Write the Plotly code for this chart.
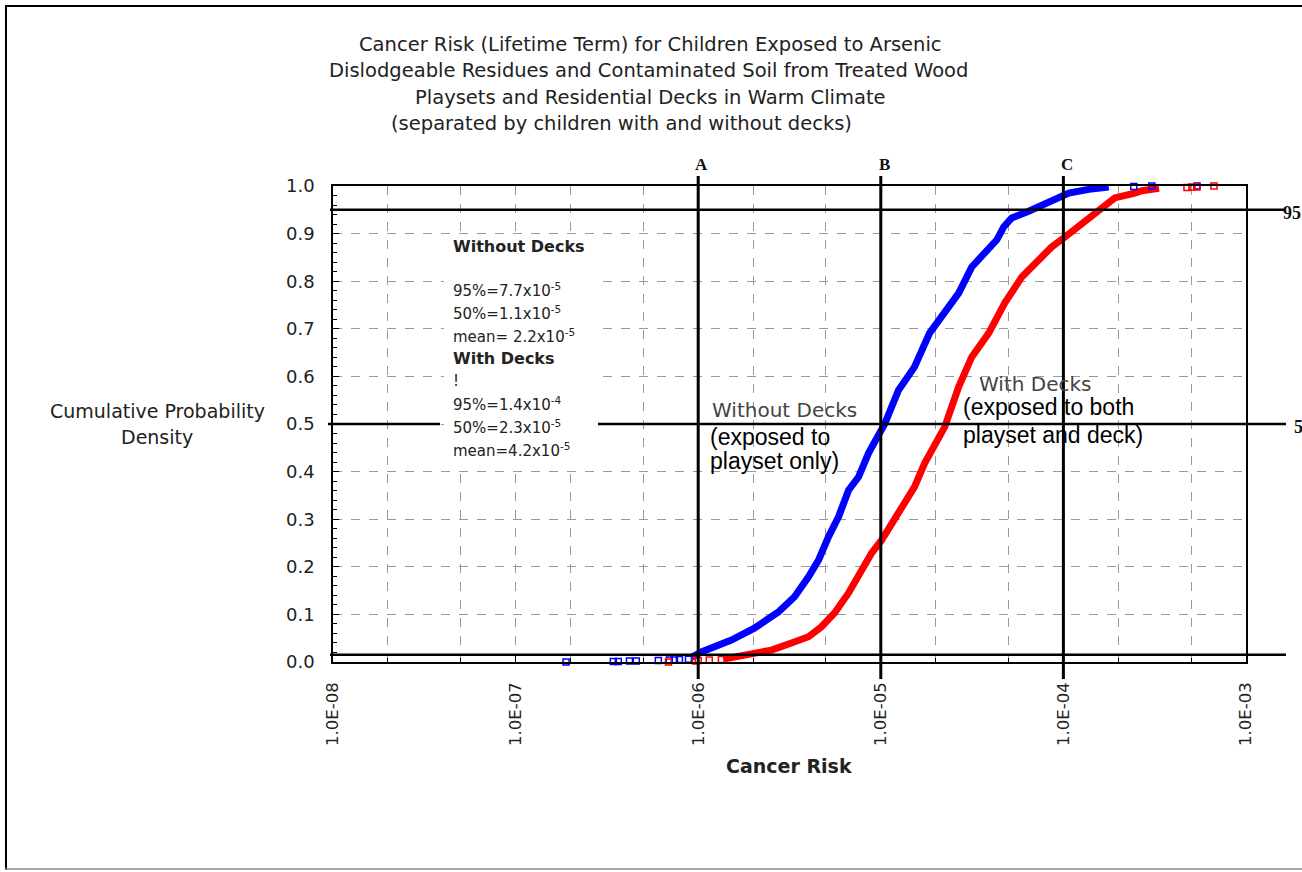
import math
import plotly.graph_objects as go

# ---- data -------------------------------------------------------------
# Without decks (exposed to playset only): cumulative curve
blue_risk = [9.2e-7, 1.04e-6, 1.52e-6, 2.03e-6, 2.75e-6, 3.37e-6, 4.02e-6, 4.56e-6,
             5.17e-6, 5.87e-6, 6.66e-6, 7.56e-6, 8.57e-6, 9.72e-6, 1.05e-5, 1.25e-5,
             1.53e-5, 1.85e-5, 2.24e-5, 2.67e-5, 3.15e-5, 3.71e-5, 4.32e-5, 4.71e-5,
             5.21e-5, 6.46e-5, 8.32e-5, 1.07e-4, 1.38e-4, 1.77e-4]
blue_prob = [0.010, 0.021, 0.046, 0.071, 0.105, 0.137, 0.179, 0.214,
             0.263, 0.305, 0.361, 0.389, 0.439, 0.481, 0.500, 0.571,
             0.620, 0.691, 0.733, 0.775, 0.830, 0.861, 0.887, 0.914,
             0.933, 0.947, 0.966, 0.985, 0.993, 0.998]
# sparse tail samples
blue_tail_risk = [1.89e-7, 3.43e-7, 3.65e-7, 4.20e-7, 4.58e-7, 6.05e-7, 6.95e-7,
                  7.41e-7, 7.89e-7, 8.84e-7, 2.43e-4, 3.05e-4, 5.39e-4]
blue_tail_prob = [0.0, 0.001, 0.001, 0.002, 0.002, 0.003, 0.004,
                  0.004, 0.005, 0.006, 0.999, 1.0, 1.0]

# With decks (exposed to both playset and deck): cumulative curve
red_risk = [1.37e-6, 1.88e-6, 2.52e-6, 3.24e-6, 4.02e-6, 4.73e-6, 5.58e-6, 6.66e-6,
            7.85e-6, 8.91e-6, 1.01e-5, 1.15e-5, 1.35e-5, 1.53e-5, 1.74e-5, 1.97e-5,
            2.24e-5, 2.67e-5, 3.15e-5, 3.90e-5, 4.77e-5, 5.92e-5, 7.33e-5, 8.63e-5,
            1.02e-4, 1.26e-4, 1.56e-4, 1.91e-4, 2.46e-4, 2.69e-4, 3.34e-4]
red_prob = [0.006, 0.015, 0.025, 0.040, 0.053, 0.074, 0.103, 0.145,
            0.193, 0.229, 0.256, 0.292, 0.334, 0.368, 0.418, 0.452,
            0.494, 0.578, 0.641, 0.691, 0.754, 0.809, 0.845, 0.872,
            0.893, 0.922, 0.950, 0.975, 0.985, 0.990, 0.995]
red_tail_risk = [6.87e-7, 9.66e-7, 1.0e-6, 1.15e-6, 1.34e-6,
                 4.75e-4, 5.06e-4, 5.39e-4, 6.68e-4]
red_tail_prob = [0.0, 0.002, 0.003, 0.004, 0.005,
                 0.997, 0.998, 0.998, 1.0]

# reference risk levels and percentile lines
ref_risk = [1e-6, 1e-5, 1e-4]
ref_names = ["A", "B", "C"]
pct_probs = [0.95, 0.50, 0.015]
pct_names = ["95", "5"]

x_tickvals = [1e-8, 1e-7, 1e-6, 1e-5, 1e-4, 1e-3]
x_ticktext = ["1.0E-08", "1.0E-07", "1.0E-06", "1.0E-05", "1.0E-04", "1.0E-03"]
y_tickvals = [0.0, 0.1, 0.2, 0.3, 0.4, 0.5, 0.6, 0.7, 0.8, 0.9, 1.0]

title_lines = ["Cancer Risk (Lifetime Term) for Children Exposed to Arsenic",
               "Dislodgeable Residues and Contaminated Soil from Treated Wood",
               "Playsets and Residential Decks in Warm Climate",
               "(separated by children with and without decks)"]

stats_lines = ["<b>Without Decks</b>", "",
               "95%=7.7x10<sup>-5</sup>", "50%=1.1x10<sup>-5</sup>",
               "mean= 2.2x10<sup>-5</sup>", "<b>With Decks</b>", "!",
               "95%=1.4x10<sup>-4</sup>", "50%=2.3x10<sup>-5</sup>",
               "mean=4.2x10<sup>-5</sup>"]

# ---- page geometry (pixels) ------------------------------------------
W, H = 1302, 872
PL, PR, PT, PB = 333, 1246, 186, 662
XMIN, XMAX = -8, -3


def fx(px):
    return (px - PL) / (PR - PL)


def fy(py):
    return (PB - py) / (PB - PT)


def risk_to_paper(v):
    return (math.log10(v) - XMIN) / (XMAX - XMIN)


WIDE = "DejaVu Sans"
ARIAL = "Liberation Sans"
SERIF = "Liberation Serif"
BLUE = "#0000FF"
RED = "#FF0000"
INK = "#1a1a1a"

fig = go.Figure()

fig.add_trace(go.Scatter(x=blue_risk, y=blue_prob, mode="lines",
                         line=dict(color=BLUE, width=7), hoverinfo="skip"))
fig.add_trace(go.Scatter(x=red_risk, y=red_prob, mode="lines",
                         line=dict(color=RED, width=7), hoverinfo="skip"))
fig.add_trace(go.Scatter(x=blue_tail_risk, y=blue_tail_prob, mode="markers",
                         marker=dict(symbol="square-open", size=6, color=BLUE,
                                     line=dict(width=1.5)),
                         cliponaxis=False, hoverinfo="skip"))
fig.add_trace(go.Scatter(x=red_tail_risk, y=red_tail_prob, mode="markers",
                         marker=dict(symbol="square-open", size=6, color=RED,
                                     line=dict(width=1.5)),
                         cliponaxis=False, hoverinfo="skip"))

shapes = []
annotations = []


def note(px, py, text, size, family=WIDE, color=INK, xanchor="left"):
    annotations.append(dict(xref="paper", yref="paper", x=fx(px), y=fy(py),
                            text=text, showarrow=False, xanchor=xanchor,
                            yanchor="middle", align="left",
                            font=dict(family=family, size=size, color=color)))


# white panel behind the statistics text
shapes.append(dict(type="rect", xref="paper", yref="paper",
                   x0=fx(444), x1=fx(598), y0=fy(470), y1=fy(236),
                   fillcolor="white", line=dict(width=0), layer="above"))

# vertical reference lines with letters
for v, name in zip(ref_risk, ref_names):
    xp = risk_to_paper(v)
    shapes.append(dict(type="line", xref="paper", yref="paper",
                       x0=xp, x1=xp, y0=fy(679), y1=fy(176),
                       line=dict(color="black", width=3), layer="above"))
    annotations.append(dict(xref="paper", yref="paper", x=xp + 0.004, y=fy(165),
                            text=f"<b>{name}</b>", showarrow=False,
                            xanchor="center", yanchor="middle",
                            font=dict(family=SERIF, size=17, color="#111")))

# horizontal percentile lines
shapes.append(dict(type="line", xref="paper", yref="y", x0=fx(330), x1=fx(1284),
                   y0=pct_probs[0], y1=pct_probs[0],
                   line=dict(color="black", width=2.5), layer="above"))
shapes.append(dict(type="line", xref="paper", yref="y", x0=fx(328), x1=fx(440),
                   y0=pct_probs[1], y1=pct_probs[1],
                   line=dict(color="black", width=2.5), layer="above"))
shapes.append(dict(type="line", xref="paper", yref="y", x0=fx(598), x1=fx(1286),
                   y0=pct_probs[1], y1=pct_probs[1],
                   line=dict(color="black", width=2.5), layer="above"))
shapes.append(dict(type="line", xref="paper", yref="y", x0=fx(330), x1=fx(1286),
                   y0=pct_probs[2], y1=pct_probs[2],
                   line=dict(color="black", width=2.5), layer="above"))
for p, name, px in zip(pct_probs[:2], pct_names, [1281, 1292]):
    annotations.append(dict(xref="paper", yref="y", x=fx(px), y=p - 0.006,
                            text=f"<b>{name}</b>", showarrow=False,
                            xanchor="left", yanchor="middle",
                            font=dict(family=SERIF, size=18, color="#111")))

# page border
shapes.append(dict(type="line", xref="paper", yref="paper", x0=fx(5), x1=fx(1302),
                   y0=fy(6), y1=fy(6), line=dict(color="black", width=2)))
shapes.append(dict(type="line", xref="paper", yref="paper", x0=fx(6), x1=fx(6),
                   y0=fy(5), y1=fy(870), line=dict(color="black", width=2)))
shapes.append(dict(type="line", xref="paper", yref="paper", x0=fx(5), x1=fx(1302),
                   y0=fy(869), y1=fy(869), line=dict(color="#888", width=1.5)))

# title
for line, cx, cy in zip(title_lines, [650, 648, 650, 621], [45, 71, 97, 123]):
    note(cx, cy, line, 19.5, color="#222", xanchor="center")

# statistics block
for line, ys in zip(stats_lines, [246, 268, 290, 313, 336, 358, 381, 404, 427, 450]):
    if line:
        note(451, ys, line, 15 if "<b>" not in line else 16, color="#222")

# curve labels
note(710, 410, "Without Decks", 20, color="#444")
note(708, 437, "(exposed to", 23, family=ARIAL, color="black")
note(708, 461, "playset only)", 23, family=ARIAL, color="black")
note(977, 384, "With Decks", 20, color="#444")
note(961, 407, "(exposed to both", 23, family=ARIAL, color="black")
note(961, 435, "playset and deck)", 23, family=ARIAL, color="black")

# axis titles
note(157, 411, "Cumulative Probability", 19, color="#222", xanchor="center")
note(157, 437, "Density", 19, color="#222", xanchor="center")
note(789, 766, "<b>Cancer Risk</b>", 19, color="#222", xanchor="center")

GRID = "#9a9a9a"
fig.update_layout(
    width=W, height=H,
    margin=dict(l=PL, r=W - PR, t=PT, b=H - PB, pad=0),
    paper_bgcolor="white", plot_bgcolor="white",
    showlegend=False,
    shapes=shapes, annotations=annotations,
    xaxis=dict(type="log", range=[XMIN, XMAX],
               tickvals=x_tickvals, ticktext=x_ticktext, tickangle=-90,
               tickfont=dict(family=WIDE, size=16.5, color="#222"),
               ticks="inside", ticklen=6, tickcolor="black",
               showline=True, mirror=True, linecolor="black", linewidth=1.5,
               showgrid=True, gridcolor=GRID, griddash="dash", gridwidth=1,
               minor=dict(ticks="inside", ticklen=4, tickcolor="black",
                          showgrid=True, gridcolor=GRID, griddash="dash", gridwidth=1),
               zeroline=False, ticklabelstandoff=12),
    yaxis=dict(range=[0, 1], tickvals=y_tickvals,
               tickformat=".1f",
               tickfont=dict(family=WIDE, size=18, color="#222"),
               ticks="inside", ticklen=6, tickcolor="black",
               showline=True, mirror=True, linecolor="black", linewidth=1.5,
               showgrid=True, gridcolor=GRID, griddash="dash", gridwidth=1,
               minor=dict(dtick=0.02, ticks="inside", ticklen=4, tickcolor="black",
                          showgrid=False),
               zeroline=False, ticklabelstandoff=13),
)

fig.write_html("out.html")
